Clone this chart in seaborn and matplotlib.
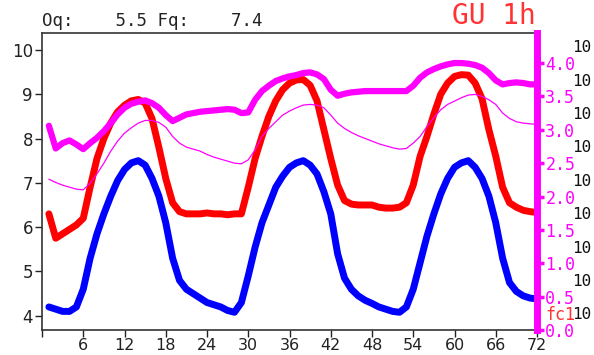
import numpy as np
import pandas as pd
import matplotlib
matplotlib.use("Agg")
import matplotlib.pyplot as plt
import seaborn as sns

hours = list(range(1, 73))
blue = [4.2, 4.15, 4.1, 4.1, 4.2, 4.6, 5.3, 5.85, 6.3, 6.7, 7.05, 7.3, 7.45, 7.5, 7.4, 7.1, 6.7, 6.1,
        5.3, 4.8, 4.6, 4.5, 4.4, 4.3, 4.25, 4.2, 4.12, 4.08, 4.3, 4.9, 5.55, 6.1, 6.5, 6.9, 7.15, 7.35,
        7.45, 7.5, 7.4, 7.2, 6.8, 6.3, 5.4, 4.85, 4.6, 4.45, 4.35, 4.28, 4.2, 4.15, 4.1, 4.08, 4.2, 4.6,
        5.2, 5.8, 6.3, 6.75, 7.1, 7.35, 7.45, 7.5, 7.35, 7.1, 6.7, 6.1, 5.3, 4.75, 4.55, 4.45, 4.4, 4.38]
red = [6.3, 5.75, 5.85, 5.95, 6.05, 6.2, 6.9, 7.55, 8.0, 8.35, 8.6, 8.75, 8.85, 8.88, 8.8, 8.45, 7.8, 7.1,
       6.55, 6.35, 6.3, 6.3, 6.3, 6.32, 6.3, 6.3, 6.28, 6.3, 6.3, 6.9, 7.55, 8.05, 8.5, 8.85, 9.1, 9.25,
       9.32, 9.33, 9.2, 8.85, 8.2, 7.55, 6.95, 6.6, 6.52, 6.5, 6.5, 6.5, 6.45, 6.43, 6.43, 6.45, 6.55, 6.95,
       7.6, 8.05, 8.55, 9.0, 9.25, 9.4, 9.44, 9.43, 9.25, 8.9, 8.2, 7.6, 6.9, 6.55, 6.45, 6.38, 6.35, 6.33]
mag_thick = [3.06, 2.72, 2.8, 2.84, 2.78, 2.71, 2.8, 2.88, 2.98, 3.1, 3.23, 3.33, 3.39, 3.42, 3.44, 3.4,
             3.33, 3.22, 3.13, 3.18, 3.23, 3.25, 3.27, 3.28, 3.29, 3.3, 3.31, 3.3, 3.25, 3.26, 3.45, 3.58,
             3.66, 3.73, 3.77, 3.8, 3.82, 3.85, 3.86, 3.83, 3.76, 3.6, 3.51, 3.54, 3.56, 3.57, 3.58, 3.58,
             3.58, 3.58, 3.58, 3.58, 3.58, 3.66, 3.78, 3.86, 3.91, 3.95, 3.98, 4.0, 4.0, 3.99, 3.97, 3.93,
             3.85, 3.74, 3.68, 3.7, 3.71, 3.7, 3.68, 3.68]
mag_thin = [2.26, 2.21, 2.17, 2.14, 2.11, 2.1, 2.2, 2.34, 2.5, 2.68, 2.83, 2.95, 3.03, 3.1, 3.14, 3.14,
            3.11, 3.04, 2.9, 2.8, 2.74, 2.71, 2.68, 2.63, 2.59, 2.56, 2.53, 2.5, 2.49, 2.55, 2.7, 2.9,
            3.02, 3.12, 3.22, 3.28, 3.33, 3.37, 3.38, 3.37, 3.33, 3.22, 3.1, 3.02, 2.96, 2.91, 2.87, 2.83,
            2.79, 2.76, 2.73, 2.71, 2.72, 2.8, 2.9, 3.05, 3.18, 3.3, 3.38, 3.43, 3.48, 3.52, 3.53, 3.5,
            3.45, 3.38, 3.25, 3.17, 3.12, 3.1, 3.09, 3.08]

x_ticks = list(range(0, 73, 6))
x_labels = [""] + [str(v) for v in range(6, 73, 6)]
left_ticks = [4, 5, 6, 7, 8, 9, 10]
right_ticks = [0.0, 0.5, 1.0, 1.5, 2.0, 2.5, 3.0, 3.5, 4.0]
right_labels = ["0.0", "0.5", "1.0", "1.5", "2.0", "2.5", "3.0", "3.5", "4.0"]
extra_ticks = [0.25, 0.75, 1.25, 1.75, 2.25, 2.75, 3.25, 3.75, 4.25]
header = "Oq:    5.5 Fq:    7.4"
title = "GU 1h"
unit = "fc1"

df = pd.DataFrame({"hour": hours, "blue": blue, "red": red,
                   "mag_thick": mag_thick, "mag_thin": mag_thin})

sns.set_theme(style="white")
plt.rcParams["font.family"] = ["DejaVu Sans"]

MAG = "#ff00ff"
MONO = "DejaVu Sans Mono"
fig = plt.figure(figsize=(5.94, 3.55), dpi=100)
ax = fig.add_axes([42 / 594, 25 / 355, 495 / 594, 297 / 355])

sns.lineplot(data=df, x="hour", y="blue", ax=ax, color="#0000ff", linewidth=5.0)
sns.lineplot(data=df, x="hour", y="red", ax=ax, color="#ff0000", linewidth=5.0)
ax.set_xlim(0, 72)
ax.set_ylim(3.68, 10.38)
ax.set_xticks(x_ticks)
ax.set_xticklabels(x_labels)
ax.set_yticks(left_ticks)
ax.set_xlabel("")
ax.set_ylabel("")
ax.tick_params(axis="both", direction="out", length=5, width=1, color="#222222",
               labelsize=12, labelcolor="#222222", pad=1.5)
ax.tick_params(axis="x", labelsize=11.5, pad=0.5)
ax.tick_params(axis="y", left=True)
ax.tick_params(axis="x", bottom=True)
for s in ["left", "bottom", "top"]:
    ax.spines[s].set_color("#333333")
    ax.spines[s].set_linewidth(1.2)
ax.spines["right"].set_visible(False)

ax2 = ax.twinx()
sns.lineplot(data=df, x="hour", y="mag_thick", ax=ax2, color=MAG, linewidth=4.5)
sns.lineplot(data=df, x="hour", y="mag_thin", ax=ax2, color=MAG, linewidth=0.9)
ax2.set_ylim(0, 4.45)
ax2.set_yticks(right_ticks)
ax2.set_yticklabels(right_labels, family=MONO)
ax2.set_ylabel("")
ax2.tick_params(axis="y", right=True, direction="out", length=5, width=2.5, color=MAG,
                labelsize=12, labelcolor=MAG, pad=1)
for s in ["left", "bottom", "top"]:
    ax2.spines[s].set_visible(False)
ax2.spines["right"].set_color(MAG)
ax2.spines["right"].set_linewidth(5)

ax3 = ax.twinx()
ax3.set_ylim(0, 4.45)
ax3.set_yticks(extra_ticks)
ax3.set_yticklabels(["10"] * len(extra_ticks), family=MONO)
ax3.tick_params(axis="y", right=True, length=0, labelsize=11.5, labelcolor="#111111", pad=25)
for s in ax3.spines.values():
    s.set_visible(False)

ax.annotate(header, xy=(0.0, 1.0), xycoords="axes fraction", xytext=(0, 2),
            textcoords="offset points", ha="left", va="bottom",
            family=MONO, fontsize=12.5, color="#222222")
ax.annotate(title, xy=(1.0, 1.0), xycoords="axes fraction", xytext=(-1, 2),
            textcoords="offset points", ha="right", va="bottom",
            family=MONO, fontsize=20, color="#ff3333")
ax2.annotate(unit, xy=(1.0, 0.0), xycoords="axes fraction", xytext=(6, 4),
             textcoords="offset points", ha="left", va="bottom",
             family=MONO, fontsize=12, color="#ff3333")

fig.savefig("out.png", dpi=100, facecolor="white")
